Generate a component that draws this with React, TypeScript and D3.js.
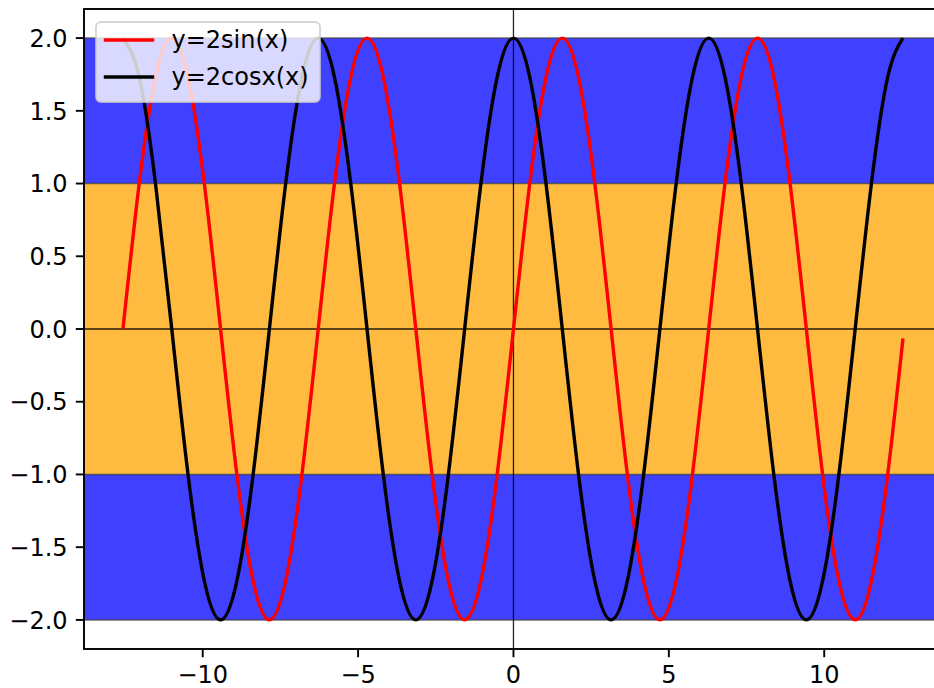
import React from "react";
import * as d3 from "d3";

// Sample points (x in units, y values)
const xs = [
  -12.566, -12.043, -11.519, -10.996, -10.472, -9.948, -9.425, -8.901, -8.378, -7.854, -7.33, -6.807,
  -6.283, -5.76, -5.236, -4.712, -4.189, -3.665, -3.142, -2.618, -2.094, -1.571, -1.047, -0.524,
  0, 0.524, 1.047, 1.571, 2.094, 2.618, 3.142, 3.665, 4.189, 4.712, 5.236, 5.76,
  6.283, 6.807, 7.33, 7.854, 8.378, 8.901, 9.425, 9.948, 10.472, 10.996, 11.519, 12.043,
  12.534,
];
const sinVals = [
  0, 1, 1.732, 2, 1.732, 1, 0, -1, -1.732, -2, -1.732, -1,
  0, 1, 1.732, 2, 1.732, 1, 0, -1, -1.732, -2, -1.732, -1,
  0, 1, 1.732, 2, 1.732, 1, 0, -1, -1.732, -2, -1.732, -1,
  0, 1, 1.732, 2, 1.732, 1, 0, -1, -1.732, -2, -1.732, -1,
  -0.065,
];
const cosVals = [
  2, 1.732, 1, 0, -1, -1.732, -2, -1.732, -1, 0, 1, 1.732,
  2, 1.732, 1, 0, -1, -1.732, -2, -1.732, -1, 0, 1, 1.732,
  2, 1.732, 1, 0, -1, -1.732, -2, -1.732, -1, 0, 1, 1.732,
  2, 1.732, 1, 0, -1, -1.732, -2, -1.732, -1, 0, 1, 1.732,
  2,
];
const seriesLabels = ["y=2sin(x)", "y=2cosx(x)"];
const seriesColors = ["#ff0000", "#000000"];
const xTicks = [-10, -5, 0, 5, 10];
const yTicks = [-2, -1.5, -1, -0.5, 0, 0.5, 1, 1.5, 2];
// bands: [y0, y1, color]
const bandRanges: [number, number][] = [[1, 2], [-1, 1], [-2, -1]];
const bandColors = ["#4040ff", "#ffbb40", "#4040ff"];

const W = 934, H = 688;
const L = 84, R = 942, T = 9, B = 649;
const FS = 24;
const FONT = "DejaVu Sans, sans-serif";

const fmt = (v: number, d: number) => {
  const s = Math.abs(v).toFixed(d);
  return (v < 0 ? "\u2212" : "") + s;
};

export default function App() {
  const x = d3.scaleLinear().domain([-13.82, 13.79]).range([L, R]);
  const y = d3.scaleLinear().domain([-2.2, 2.2]).range([B, T]);
  const idx = d3.range(xs.length);
  const lineSin = d3.line<number>().x((i) => x(xs[i])).y((i) => y(sinVals[i])).curve(d3.curveNatural);
  const lineCos = d3.line<number>().x((i) => x(xs[i])).y((i) => y(cosVals[i])).curve(d3.curveNatural);
  const paths = [lineSin(idx) || "", lineCos(idx) || ""];
  const tickLen = 8.2;

  return (
    <div style={{ position: "fixed", left: 0, top: 0 }}>
      <svg width={W} height={H} style={{ display: "block", background: "#fff" }} fontFamily={FONT}>
        {bandRanges.map((b, i) => (
          <rect key={"b" + i} x={L} width={R - L} y={y(b[1])} height={y(b[0]) - y(b[1])} fill={bandColors[i]} />
        ))}
        {[2, 1, -1, -2].map((v) => (
          <line key={"e" + v} x1={L} x2={R} y1={y(v)} y2={y(v)} stroke="#333" strokeOpacity={0.7} strokeWidth={1.5} />
        ))}
        <line x1={L} x2={R} y1={y(0)} y2={y(0)} stroke="#000" strokeOpacity={0.85} strokeWidth={1.3} />
        <line x1={x(0)} x2={x(0)} y1={T} y2={B} stroke="#000" strokeOpacity={0.85} strokeWidth={1.3} />
        {paths.map((p, i) => (
          <path key={"p" + i} d={p} fill="none" stroke={seriesColors[i]} strokeWidth={3.4} strokeLinejoin="round" />
        ))}
        {/* spines */}
        <rect x={L} y={T} width={R - L} height={B - T} fill="none" stroke="#000" strokeWidth={1.9} />
        {/* y ticks */}
        {yTicks.map((v) => (
          <g key={"yt" + v}>
            <line x1={L - tickLen} x2={L} y1={y(v)} y2={y(v)} stroke="#000" strokeWidth={1.9} />
            <text x={L - tickLen - 8.2} y={y(v) + 0.365 * FS} textAnchor="end" fontSize={FS} fill="#000">
              {fmt(v, 1)}
            </text>
          </g>
        ))}
        {/* x ticks */}
        {xTicks.map((v) => (
          <g key={"xt" + v}>
            <line x1={x(v)} x2={x(v)} y1={B} y2={B + tickLen} stroke="#000" strokeWidth={1.9} />
            <text x={x(v)} y={B + tickLen + 8.2 + 0.74 * FS} textAnchor="middle" fontSize={FS} fill="#000">
              {fmt(v, 0)}
            </text>
          </g>
        ))}
        {/* legend */}
        <rect x={96} y={22} width={224} height={80} rx={5} fill="#fff" fillOpacity={0.8} stroke="#ccc" strokeOpacity={0.8} strokeWidth={1.9} />
        {seriesLabels.map((s, i) => (
          <g key={"lg" + i}>
            <line x1={105.5} x2={152.5} y1={40 + i * 37} y2={40 + i * 37} stroke={seriesColors[i]} strokeWidth={3.4} strokeLinecap="square" />
            <text x={171.5} y={40 + i * 37 + 8} fontSize={FS} fill="#000">{s}</text>
          </g>
        ))}
      </svg>
    </div>
  );
}
